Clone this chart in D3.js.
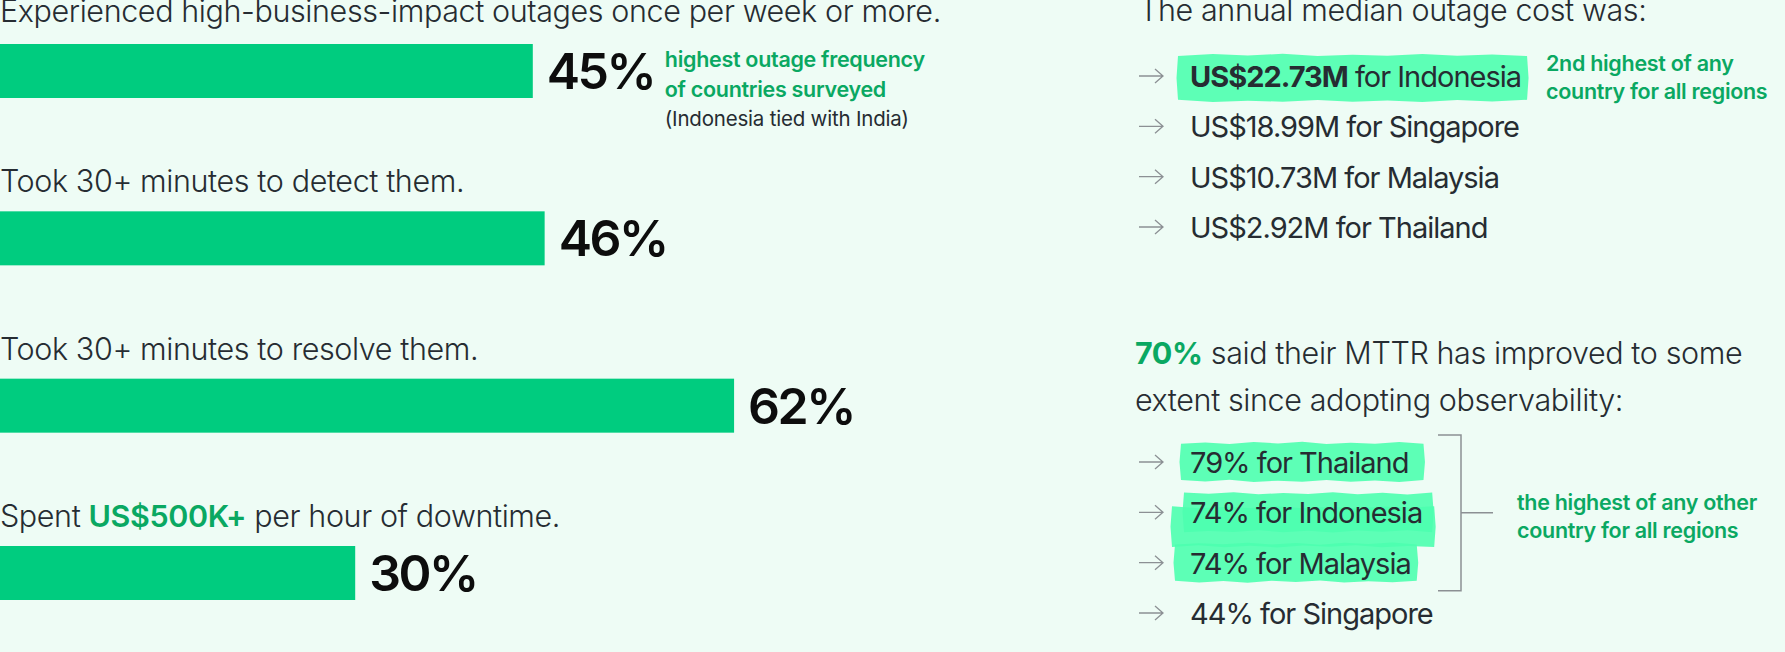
<!DOCTYPE html>
<html lang="en">
<head>
<meta charset="utf-8">
<script src="https://cdn.jsdelivr.net/npm/d3@7/dist/d3.min.js"></script>
<style>
body{margin:0;background:#eefcf5;}
svg text{font-family:Inter,"Noto Sans",sans-serif;}
</style>
</head>
<body>
<div id="chart"></div>
<script>
// left panel: bar rows
const barTitles=[
  [{t:"Experienced high-business-impact outages once per week or more."}],
  [{t:"Took 30+ minutes to detect them."}],
  [{t:"Took 30+ minutes to resolve them."}],
  [{t:"Spent "},{t:"US$500K+",hl:true},{t:" per hour of downtime."}]
]
const barValues=[45,46,62,30]
const barNote=["highest outage frequency","of countries surveyed"]
const barNoteSub="(Indonesia tied with India)"

// right panel: cost list
const costTitle="The annual median outage cost was:"
const costAmounts=["US$22.73M","US$18.99M","US$10.73M","US$2.92M"]
const costCountries=["Indonesia","Singapore","Malaysia","Thailand"]
const costNote=["2nd highest of any","country for all regions"]

// right panel: MTTR list
const mttrShare=70
const mttrTitle=[" said their MTTR has improved to some","extent since adopting observability:"]
const mttrValues=[79,74,74,44]
const mttrCountries=["Thailand","Indonesia","Malaysia","Singapore"]
const mttrNote=["the highest of any other","country for all regions"]

const W=1785,H=652
const C={bg:"#eefcf5",bar:"#00cc7f",green:"#0aa862",text:"#262c32",pct:"#0d0d0d",arrow:"#8c9094",hl:"#4dffaf"}
const bodyFont=t=>t.style("font-size","30.5px").style("font-weight",350).style("fill",C.text).style("letter-spacing","-0.4px")
const listFont=t=>t.style("font-size","29px").style("font-weight",400).style("fill",C.text).style("letter-spacing","-1px")
const noteFont=t=>t.style("font-size","21.5px").style("font-weight",600).style("fill",C.green).style("letter-spacing","-0.3px")

const svg=d3.select("#chart").append("svg").attr("width",W).attr("height",H)
svg.append("rect").attr("width",W).attr("height",H).attr("fill",C.bg)

////////////////////////// bars //////////////////////////
const x=d3.scaleLinear().domain([0,100]).range([0,1184])
const y=d3.scalePoint().domain(d3.range(barValues.length)).range([44,546])
const barH=54

const rows=svg.append("g").selectAll("g").data(barValues).join("g")
  .attr("transform",(d,i)=>"translate(0,"+y(i)+")")

rows.append("rect").attr("x",0).attr("y",0).attr("height",barH)
  .attr("width",d=>x(d)).attr("fill",C.bar)

rows.append("text").attr("x",d=>x(d)+14).attr("y",barH/2+18)
  .style("font-size","50px").style("font-weight",600).style("fill",C.pct)
  .style("letter-spacing","-2.5px")
  .text(d=>d+"%")

rows.append("text").attr("x",0).attr("y",(d,i)=>i==0?-22:-19)
  .call(bodyFont)
  .selectAll("tspan").data((d,i)=>barTitles[i]).join("tspan")
  .text(d=>d.t)
  .style("fill",d=>d.hl?C.green:null).style("font-weight",d=>d.hl?600:null)

// note next to first bar
const n1=svg.append("g").attr("transform","translate("+(x(barValues[0])+132)+",0)")
n1.selectAll("text.g").data(barNote).join("text").attr("class","g")
  .attr("y",(d,i)=>67+i*29.5).text(d=>d).call(noteFont)
n1.append("text").attr("y",126).text(barNoteSub)
  .style("font-size","20.5px").style("font-weight",400).style("fill",C.text).style("letter-spacing","-0.2px")

////////////////////////// right lists //////////////////////////
const rx=1139, tx=1190

function arrow(g){
  g.append("path").attr("d","M0,0H24M16,-7L24,0L16,7")
    .attr("fill","none").attr("stroke",C.arrow).attr("stroke-width",1.3)
}

// rough highlighter stroke round a box
function marker(g,x0,y0,x1,y1,seed){
  const wob=[0.8,-0.6,1.1,-0.9,0.4,-1.2,0.9,-0.3,0.7,-1.0]
  const n=10, pts=[]
  for(let k=0;k<=n;k++) pts.push([x0+(x1-x0)*k/n, y0+wob[(k+seed)%10]])
  pts.push([x1+1.5,y0+(y1-y0)*0.5])
  for(let k=n;k>=0;k--) pts.push([x0+(x1-x0)*k/n, y1+wob[(k+seed+3)%10]])
  pts.push([x0-1.5,y0+(y1-y0)*0.5])
  g.append("path").attr("d",d3.line().curve(d3.curveLinearClosed)(pts))
    .attr("fill",C.hl).attr("fill-opacity",0.9)
}

svg.append("text").attr("x",rx).attr("y",21).text(costTitle).call(bodyFont)

const yc=d3.scalePoint().domain(d3.range(costAmounts.length)).range([87,238])
const hlLayer1=svg.append("g")
const cost=svg.append("g").selectAll("g").data(costAmounts).join("g")
  .attr("transform",(d,i)=>"translate(0,"+yc(i)+")")
cost.append("g").attr("transform","translate("+rx+",-11)").call(arrow)
const costText=cost.append("text").attr("x",tx).call(listFont)
costText.append("tspan").text(d=>d).style("font-weight",(d,i)=>i==0?650:null)
costText.append("tspan").text((d,i)=>" for "+costCountries[i])

costText.filter((d,i)=>i==0).each(function(){
  const b=this.getBBox()
  marker(hlLayer1,b.x-12,yc(0)-32,b.x+b.width+6,yc(0)+14,2)
})

svg.append("g").selectAll("text").data(costNote).join("text")
  .attr("x",1546).attr("y",(d,i)=>71+i*28).text(d=>d).call(noteFont)

// MTTR block
svg.append("g").selectAll("text").data(mttrTitle).join("text")
  .attr("x",rx-4).attr("y",(d,i)=>364+i*46.5)
  .call(bodyFont)
  .each(function(d,i){
    const t=d3.select(this)
    if(i==0) t.append("tspan").text(mttrShare+"%").style("fill",C.green).style("font-weight",650)
    t.append("tspan").text(d)
  })

const ym=d3.scalePoint().domain(d3.range(mttrValues.length)).range([473,624])
const hlLayer2=svg.append("g")
const mttr=svg.append("g").selectAll("g").data(mttrValues).join("g")
  .attr("transform",(d,i)=>"translate(0,"+ym(i)+")")
mttr.append("g").attr("transform","translate("+rx+",-11)").call(arrow)
mttr.append("text").attr("x",tx).text((d,i)=>d+"% for "+mttrCountries[i]).call(listFont)

// top three highlighted, grouped by the bracket
const top3=mttr.filter((d,i)=>i<3)
top3.select("text").each(function(d,i){
  const b=this.getBBox(), yy=ym(i)
  const l=[b.x-9,b.x-6,b.x-15][i], r=b.x+b.width+[15,10,6][i]
  marker(hlLayer2,l,yy-30,r,yy+8,i*3)
  if(i==1) marker(hlLayer2,b.x-18,yy-16,r+2,yy+23,5)
})

const bTop=ym(0)-38, bBot=ym(2)+17, bx=1461
svg.append("path")
  .attr("d","M"+(bx-23)+","+bTop+"H"+bx+"V"+bBot+"H"+(bx-23)+"M"+bx+","+((bTop+bBot)/2)+"H"+(bx+32))
  .attr("fill","none").attr("stroke",C.arrow).attr("stroke-width",1.5)

svg.append("g").selectAll("text").data(mttrNote).join("text")
  .attr("x",1517).attr("y",(d,i)=>510+i*28).text(d=>d).call(noteFont)
</script>
</body>
</html>
